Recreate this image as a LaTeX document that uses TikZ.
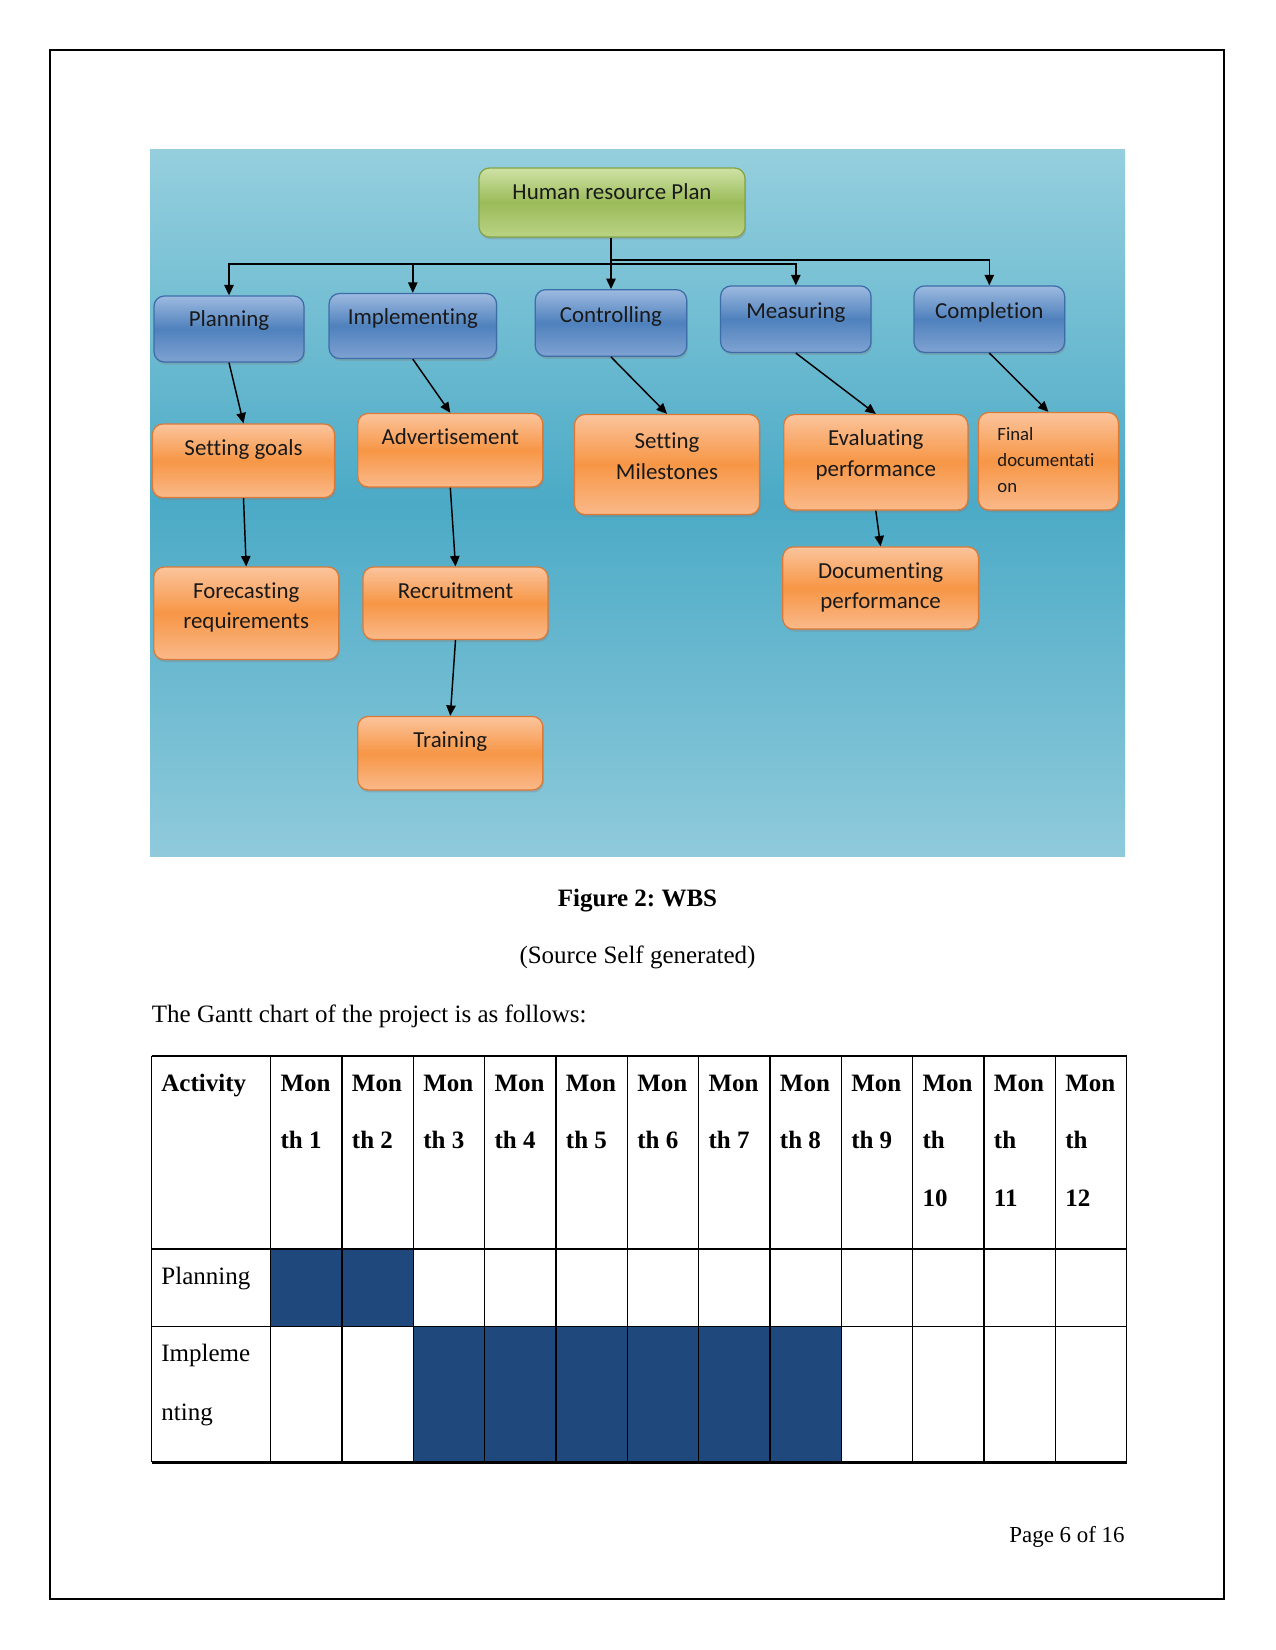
\documentclass[tikz,border=0pt]{standalone}
\usepackage{fontspec}
\setmainfont{Liberation Serif}
\newfontfamily\cbri[Ligatures={NoCommon,NoRare}]{Carlito}
\frenchspacing
\usetikzlibrary{arrows.meta,shadows}
\definecolor{bgtop}{HTML}{95CFDE}
\definecolor{bgmid}{HTML}{4BAAC6}
\definecolor{bgbot}{HTML}{8FCADB}
\definecolor{bluetop}{HTML}{9DBAE0}
\definecolor{bluemid}{HTML}{4F81BD}
\definecolor{bluebot}{HTML}{7FA2D2}
\definecolor{blueedge}{HTML}{3D6DA8}
\definecolor{orgtop}{HTML}{FBC49C}
\definecolor{orgmid}{HTML}{F79646}
\definecolor{orgbot}{HTML}{FAB98A}
\definecolor{orgedge}{HTML}{DB7A36}
\definecolor{grntop}{HTML}{CFE2A6}
\definecolor{grnmid}{HTML}{9BBB59}
\definecolor{grnbot}{HTML}{BAD385}
\definecolor{grnedge}{HTML}{84A444}
\definecolor{gantt}{HTML}{1F497D}
\tikzset{
 box/.style={rectangle, rounded corners=5pt, inner sep=0pt, line width=0.6pt,
   drop shadow={shadow xshift=0.5pt, shadow yshift=-1.2pt, opacity=0.35}},
 bluebox/.style={box, draw=blueedge, top color=bluetop, bottom color=bluebot, middle color=bluemid},
 orangebox/.style={box, draw=orgedge, top color=orgtop, bottom color=orgbot, middle color=orgmid},
 greenbox/.style={box, draw=grnedge, top color=grntop, bottom color=grnbot, middle color=grnmid},
 boxtext/.style={font=\cbri\fontsize{11}{14.6}\selectfont, align=center, inner sep=0pt, text=black!90},
 conn/.style={line width=0.7pt, -{Triangle[length=5pt,width=4.5pt]}},
 gline/.style={line width=0.75pt},
 gtext/.style={anchor=base west, inner sep=0pt, font=\fontsize{12}{14.4}\selectfont\bfseries},
 rtext/.style={anchor=base west, inner sep=0pt},
}
\begin{document}
\begin{tikzpicture}[x=0.48pt, y=-0.48pt, font=\fontsize{12}{14.4}\selectfont]
\useasboundingbox (0,0) rectangle (1275,1650);
\draw[line width=0.6pt] (50,50) rectangle (1224,1599);

% background of figure
\fill[top color=bgtop, bottom color=bgbot, middle color=bgmid] (150,150) rectangle (1125,856);

% boxes
\node[greenbox, minimum width=127.7pt, minimum height=33.1pt] (hr) at (612,202.5) {};
\node[bluebox, minimum width=72pt, minimum height=31.7pt] (plan) at (229,329) {};
\node[bluebox, minimum width=80.4pt, minimum height=31.2pt] (impl) at (412.8,326) {};
\node[bluebox, minimum width=72.7pt, minimum height=32pt] (ctrl) at (611,323) {};
\node[bluebox, minimum width=72.2pt, minimum height=31.9pt] (meas) at (795.8,319.2) {};
\node[bluebox, minimum width=72.3pt, minimum height=31.9pt] (compl) at (989.3,319.2) {};
\node[orangebox, minimum width=87.4pt, minimum height=35.3pt] (goals) at (243.5,460.8) {};
\node[orangebox, minimum width=88.8pt, minimum height=35.3pt] (adv) at (450.3,450.2) {};
\node[orangebox, minimum width=88.8pt, minimum height=48pt] (miles) at (667,464.5) {};
\node[orangebox, minimum width=88.4pt, minimum height=45.8pt] (eval) at (875.8,462.3) {};
\node[orangebox, minimum width=67.2pt, minimum height=46.8pt] (final) at (1048.4,461.2) {};
\node[orangebox, minimum width=88.8pt, minimum height=44.4pt] (fore) at (246.2,613.3) {};
\node[orangebox, minimum width=88.8pt, minimum height=34.8pt] (recr) at (455.5,603.3) {};
\node[orangebox, minimum width=88.8pt, minimum height=35.3pt] (train) at (450.3,753.2) {};
\node[orangebox, minimum width=93.9pt, minimum height=39.4pt] (docu) at (880.6,588) {};

% box texts
\node[boxtext, anchor=base] (t-hr) at (612,199.5) {Human resource Plan};
\node[boxtext, anchor=base] (t-plan) at (229,327) {Planning};
\node[boxtext, anchor=base] (t-impl) at (412.8,324.7) {Implementing};
\node[boxtext, anchor=base] (t-ctrl) at (611,322.6) {Controlling};
\node[boxtext, anchor=base] (t-meas) at (795.8,318.4) {Measuring};
\node[boxtext, anchor=base] (t-compl) at (989.3,318.4) {Completion};
\node[boxtext, anchor=base] (t-goals) at (243.5,455) {Setting goals};
\node[boxtext, anchor=base] (t-adv) at (450.3,444.6) {Advertisement};
\node[boxtext] (t-miles) at (667,456) {Setting\\Milestones};
\node[boxtext] (t-eval) at (875.8,455) {Evaluating\\performance};
\node[boxtext, align=left, anchor=west, font=\cbri\fontsize{9}{12.5}\selectfont] (t-final) at (997,459.7) {Final\\documentati\\on};
\node[boxtext] (t-fore) at (246.2,607.5) {Forecasting\\requirements};
\node[boxtext, anchor=base] (t-recr) at (455.5,598.2) {Recruitment};
\node[boxtext, anchor=base] (t-train) at (450.3,747.6) {Training};
\node[boxtext] (t-docu) at (880.6,587.5) {Documenting\\performance};

% connectors
\coordinate (bus) at (611,264);
\coordinate (bus2) at (611,260);
\draw[conn] (hr.south -| ctrl.north) -- (ctrl.north);
\draw[conn] (bus) -| (plan.north);
\draw[conn] (bus) -| (impl.north);
\draw[conn] (bus) -| (meas.north);
\draw[conn] (bus2) -| (compl.north);
\draw[conn] (plan.south) -- (goals.north);
\draw[conn] (impl.south) -- (adv.north);
\draw[conn] (ctrl.south) -- (miles.north);
\draw[conn] (meas.south) -- (eval.north);
\draw[conn] (compl.south) -- (final.north);
\draw[conn] (goals.south) -- (fore.north);
\draw[conn] (adv.south) -- (recr.north);
\draw[conn] (recr.south) -- (train.north);
\draw[conn] (eval.south) -- (docu.north);

% captions
\node[font=\fontsize{12}{14.4}\selectfont\bfseries, anchor=base, inner sep=0pt] (cap) at (637.5,906) {Figure 2: WBS};
\node[anchor=base, inner sep=0pt] (src) at (637.5,963) {(Source Self generated)};
\node[rtext] (intro) at (151.5,1022) {The Gantt chart of the project is as follows:};

% Gantt chart fills
\fill[gantt] (270.7,1249) rectangle (413,1326.7);
\fill[gantt] (413,1326.7) rectangle (841.5,1462.3);

% Gantt lines
\draw[line width=1pt] (151.5,1055.7) -- (1126.6,1055.7);
\draw[gline] (151.5,1249) -- (1126.6,1249);
\draw[gline] (151.5,1326.7) -- (1126.6,1326.7);
\draw[line width=1.4pt] (151.5,1462.3) -- (1126.6,1462.3);
\draw[gline] (151.5,1055.7) -- (151.5,1462.3);
\foreach \i in {0,...,12} {
  \draw[gline] ({270.7+71.33*\i},1055.7) -- ({270.7+71.33*\i},1462.3);
}

% Gantt texts
\node[gtext] (hdr-act) at (161,1091) {Activity};
\foreach \i in {1,...,9} {
  \node[gtext] (m\i-a) at ({280.2+71.33*(\i-1)},1091) {Mon};
  \node[gtext] (m\i-b) at ({280.2+71.33*(\i-1)},1148) {th \i};
}
\foreach \i in {10,11,12} {
  \node[gtext] (m\i-a) at ({280.2+71.33*(\i-1)},1091) {Mon};
  \node[gtext] (m\i-b) at ({280.2+71.33*(\i-1)},1148) {th};
  \node[gtext] (m\i-c) at ({280.2+71.33*(\i-1)},1206) {\i};
}
\node[rtext] (r-plan) at (161,1284) {Planning};
\node[rtext] (r-impl1) at (161,1361) {Impleme};
\node[rtext] (r-impl2) at (161,1420) {nting};

% page number
\node[anchor=base east, inner sep=0pt, font=\fontsize{11}{13}\selectfont] (pg) at (1125,1542) {Page 6 of 16};
\end{tikzpicture}
\end{document}
